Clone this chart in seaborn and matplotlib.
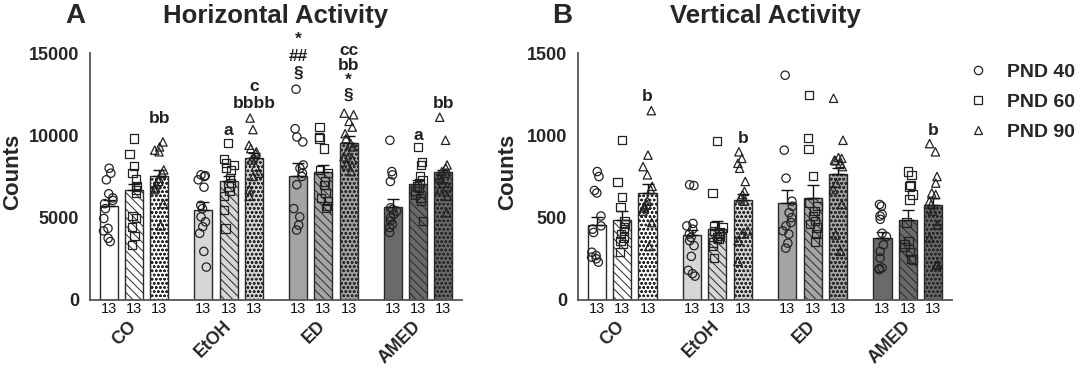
import numpy as np
import pandas as pd
import matplotlib
matplotlib.use("Agg")
import matplotlib.pyplot as plt
import seaborn as sns
from matplotlib.lines import Line2D
from matplotlib.transforms import ScaledTranslation, blended_transform_factory

# ---------------- data ----------------
groups = ["CO", "EtOH", "ED", "AMED"]
pnds = ["PND 40", "PND 60", "PND 90"]

# Horizontal activity: bar means and SEM, [group][pnd]
horiz_mean = [[5700, 6650, 7550], [5450, 7200, 8650], [7550, 7750, 9550], [5650, 7050, 7750]]
horiz_sem = [[350, 400, 350], [500, 350, 250], [750, 450, 400], [500, 250, 150]]

# Horizontal activity: individual animals, [group][pnd][animal]
horiz_pts = [
    [[8000, 7700, 7300, 6450, 6200, 6050, 5850, 5550, 4950, 4350, 4200, 3750, 3550],
     [9800, 8850, 8150, 7700, 7350, 6900, 6700, 6500, 5100, 5000, 4450, 3900, 3350],
     [9600, 9300, 9100, 9000, 7900, 7700, 7400, 7200, 7000, 6800, 6700, 5850, 4500]],
    [[7600, 7550, 7500, 7300, 6850, 5750, 5550, 5050, 4750, 4450, 4050, 2950, 2000],
     [9550, 8550, 8300, 8200, 8000, 7900, 7400, 7100, 6900, 6600, 6300, 5450, 4350],
     [11050, 10350, 9400, 9200, 9000, 8900, 8700, 8500, 8100, 7700, 7500, 6700, 6300]],
    [[12800, 10400, 9900, 9600, 8200, 8000, 7700, 7500, 7000, 5550, 5050, 4550, 4250],
     [10500, 9900, 9800, 9200, 7900, 7700, 7200, 7000, 6500, 6200, 6000, 5700, 5600],
     [11350, 11250, 10850, 10500, 10100, 9800, 9500, 9300, 9000, 8700, 8500, 8200, 7800]],
    [[9700, 7800, 7600, 7200, 5600, 5500, 5400, 5200, 5000, 4800, 4600, 4400, 4100],
     [9300, 8400, 8200, 7500, 7300, 7100, 6900, 6800, 6600, 6400, 6200, 6000, 4800],
     [11100, 9700, 8200, 8000, 7800, 7700, 7400, 7300, 7100, 6900, 6700, 6300, 5300]],
]

# Vertical activity: bar means and SEM, [group][pnd]
vert_mean = [[455, 486, 652], [395, 433, 607], [587, 617, 763], [375, 486, 577]]
vert_sem = [[50, 55, 50], [30, 45, 35], [80, 80, 40], [35, 60, 40]]

# Vertical activity: individual animals
vert_pts = [
    [[780, 750, 665, 650, 510, 450, 430, 410, 290, 270, 260, 250, 230],
     [970, 715, 625, 565, 480, 460, 440, 420, 400, 380, 360, 340, 290],
     [1150, 880, 810, 760, 690, 670, 600, 580, 570, 560, 540, 470, 325]],
    [[700, 695, 465, 450, 430, 400, 380, 360, 330, 265, 180, 160, 145],
     [965, 650, 450, 440, 420, 410, 400, 390, 380, 370, 350, 330, 255],
     [900, 860, 830, 800, 720, 660, 640, 620, 600, 420, 400, 360, 235]],
    [[1365, 910, 740, 600, 570, 530, 500, 470, 450, 420, 400, 345, 315],
     [1245, 985, 915, 755, 590, 570, 540, 510, 480, 460, 440, 400, 355],
     [1225, 970, 865, 860, 850, 845, 830, 810, 710, 670, 580, 395, 295]],
    [[580, 570, 520, 510, 490, 405, 385, 335, 295, 255, 195, 190, 185],
     [780, 760, 700, 690, 640, 610, 470, 360, 340, 320, 290, 250, 245],
     [950, 900, 750, 710, 650, 640, 600, 580, 540, 455, 375, 215, 210]],
]

# significance labels (stacked lines): (group, pnd, text, y of block centre)
horiz_sig = [("CO", "PND 90", "bb", 11050), ("EtOH", "PND 60", "a", 10320),
             ("EtOH", "PND 90", "c\nbbbb", 12450),
             ("ED", "PND 40", "*\n##\n§", 14800),
             ("ED", "PND 90", "cc\nbb\n*\n§", 13800),
             ("AMED", "PND 60", "a", 9960), ("AMED", "PND 90", "bb", 11950)]
vert_sig = [("CO", "PND 90", "b", 1235), ("EtOH", "PND 90", "b", 982),
            ("AMED", "PND 90", "b", 1032)]

# ---------------- style ----------------
sns.set_style("white")
plt.rcParams["font.family"] = ["Liberation Sans", "DejaVu Sans"]
plt.rcParams["hatch.linewidth"] = 0.7

group_colors = ["#ffffff", "#d6d6d6", "#a4a4a4", "#6a6a6a"]
hatches = [None, "\\\\\\\\", "oooo"]
markers = ["o", "s", "^"]
EDGE = "#2a2a2a"
AX = "#555555"

fig = plt.figure(figsize=(10.8, 3.7), dpi=100)
axA = fig.add_axes([90 / 1080, 70 / 370, 372 / 1080, 247 / 370])
axB = fig.add_axes([578 / 1080, 70 / 370, 374 / 1080, 247 / 370])

dodge_off = [-0.8 / 3, 0.0, 0.8 / 3]


def to_frames(means, sems, pts):
    mrows, prows = [], []
    for g, mg, sg, pg in zip(groups, means, sems, pts):
        for p, m, s, vals in zip(pnds, mg, sg, pg):
            mrows.append((g, p, m, s, len(vals)))
            for v in vals:
                prows.append((g, p, v))
    return (pd.DataFrame(mrows, columns=["group", "pnd", "mean", "sem", "n"]),
            pd.DataFrame(prows, columns=["group", "pnd", "value"]))


def panel(ax, means, sems, pts, ymax, ystep, sig, label_x):
    dfm, dfp = to_frames(means, sems, pts)
    sns.barplot(data=dfm, x="group", y="mean", hue="pnd", order=groups,
                hue_order=pnds, width=0.8, gap=0.29, errorbar=None,
                legend=False, ax=ax)
    bars = sorted(ax.patches, key=lambda b: b.get_x())
    for i, b in enumerate(bars):
        gi, pi = divmod(i, 3)
        b.set_facecolor(group_colors[gi])
        b.set_edgecolor(EDGE)
        b.set_linewidth(1.0)
        if hatches[pi]:
            b.set_hatch(hatches[pi])
    # SEM (upper only)
    xs = [groups.index(g) + dodge_off[pnds.index(p)] for g, p in zip(dfm.group, dfm.pnd)]
    ax.errorbar(xs, dfm["mean"], yerr=[np.zeros(len(dfm)), dfm["sem"]], fmt="none",
                ecolor="#111111", elinewidth=1.0, capsize=4, capthick=1.0, zorder=3)
    # individual points
    np.random.seed(3)
    for p, m in zip(pnds, markers):
        n0 = len(ax.collections)
        sns.stripplot(data=dfp[dfp.pnd == p], x="group", y="value", hue="pnd",
                      order=groups, hue_order=pnds, dodge=True, jitter=0.17,
                      marker=m, size=6, linewidth=0.9, edgecolor="#222222",
                      palette=["white"] * 3, legend=False, ax=ax)
        for c in ax.collections[n0:]:
            c.set_facecolor("none")
            c.set_zorder(4)
    # n labels
    trans = blended_transform_factory(ax.transData, ax.transAxes)
    for x, n in zip(xs, dfm["n"]):
        ax.text(x, -0.036, str(n), transform=trans, ha="center", va="center",
                fontsize=10.5, color="#111111")
    # significance
    for g, p, t, y in sig:
        x = groups.index(g) + dodge_off[pnds.index(p)]
        ls = 1.0 if t.count("\n") > 2 else 1.2
        ax.text(x, y, t, ha="center", va="center", fontsize=12.5, linespacing=ls,
                fontweight="bold", color="#222222", clip_on=False, zorder=5)
    # axes
    ax.set_xlim(-0.463, 3.463)
    ax.set_ylim(0, ymax)
    ax.set_yticks(np.arange(0, ymax + 1, ystep))
    ax.set_xticks(range(len(groups)))
    ax.set_xticklabels(groups, rotation=45, ha="right", va="center",
                       rotation_mode="anchor", fontsize=12.8, fontweight="bold")
    off = ScaledTranslation(13 / 100, 0, fig.dpi_scale_trans)
    for lbl in ax.get_xticklabels():
        lbl.set_transform(lbl.get_transform() + off)
    ax.tick_params(axis="x", length=0, pad=17)
    ax.tick_params(axis="y", length=5, width=1.2, color=AX, labelsize=13, pad=3)
    for lbl in ax.get_yticklabels():
        lbl.set_fontweight("bold")
    for s in ["top", "right"]:
        ax.spines[s].set_visible(False)
    for s in ["left", "bottom"]:
        ax.spines[s].set_color(AX)
        ax.spines[s].set_linewidth(1.3)
    ax.set_xlabel("")
    ax.set_ylabel("Counts", fontsize=16, fontweight="bold", va="center")
    ax.yaxis.set_label_coords(label_x, 0.52)


panel(axA, horiz_mean, horiz_sem, horiz_pts, 15000, 5000, horiz_sig, -0.207)
panel(axB, vert_mean, vert_sem, vert_pts, 1500, 500, vert_sig, -0.187)

# titles
fig.text(75 / 1080, 1 - 16 / 370, "A", fontsize=20, fontweight="bold", ha="center", va="center")
fig.text(276 / 1080, 1 - 16 / 370, "Horizontal Activity", fontsize=18.5,
         fontweight="bold", ha="center", va="center")
fig.text(562 / 1080, 1 - 16 / 370, "B", fontsize=20, fontweight="bold", ha="center", va="center")
fig.text(765 / 1080, 1 - 16 / 370, "Vertical Activity", fontsize=18.5,
         fontweight="bold", ha="center", va="center")

# legend
handles = [Line2D([], [], ls="", marker=m, markersize=6, markerfacecolor="none",
                  markeredgecolor="#222222", markeredgewidth=0.9) for m in markers]
fig.legend(handles, pnds, loc="upper left", bbox_to_anchor=(968 / 1080, 1 - 63 / 370),
           frameon=False, handlelength=1.0, handletextpad=1.0,
           labelspacing=0.64, borderpad=0, borderaxespad=0,
           prop={"weight": "bold", "size": 14})

fig.savefig("out.png", dpi=100)
